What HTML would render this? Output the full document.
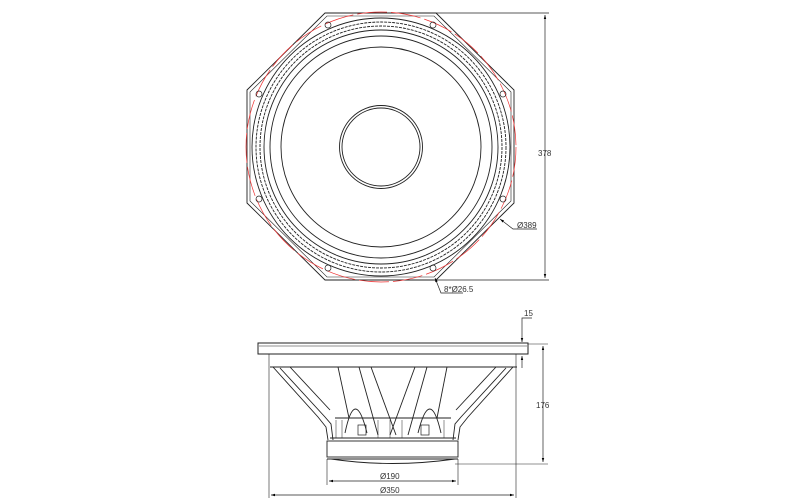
<!DOCTYPE html>
<html><head><style>html,body{margin:0;padding:0;background:#fff}svg{display:block}</style></head>
<body>
<svg width="800" height="500" viewBox="0 0 800 500" xmlns="http://www.w3.org/2000/svg" font-family="Liberation Sans, sans-serif" font-size="8">
<defs>
<marker id="a" viewBox="0 0 10 10" refX="10" refY="5" markerWidth="6" markerHeight="6" orient="auto-start-reverse"><path d="M0,2 L10,5 L0,8 z" fill="#000"/></marker>
</defs>
<g fill="none" stroke="#222" stroke-width="0.9">
<polygon points="325,13 436,13 514,90 514,203 436,280 325,280 247,203 247,90"/>
<polygon points="327,16 434,16 511,92 511,201 434,277 327,277 250,201 250,92" stroke-width="0.6"/>
<circle cx="381" cy="147" r="135" stroke="#e33" stroke-width="0.7" stroke-dasharray="30 4"/>
<circle cx="381" cy="147" r="129"/>
<circle cx="381" cy="147" r="125" stroke-dasharray="3 1"/>
<circle cx="381" cy="147" r="121" stroke-dasharray="3 1"/>
<circle cx="381" cy="147" r="117"/>
<circle cx="381" cy="147" r="111"/>
<circle cx="381" cy="147" r="100"/>
<circle cx="381" cy="147" r="41.5"/>
<circle cx="381" cy="147" r="39"/>
<g stroke-width="0.7">
<circle cx="328" cy="25" r="3"/><circle cx="433" cy="25" r="3"/>
<circle cx="259" cy="94" r="3"/><circle cx="503" cy="94" r="3"/>
<circle cx="259" cy="199" r="3"/><circle cx="503" cy="199" r="3"/>
<circle cx="328" cy="268" r="3"/><circle cx="433" cy="268" r="3"/>
</g>
<line x1="436" y1="13" x2="549" y2="13" stroke-width="0.7"/>
<line x1="436" y1="280" x2="549" y2="280" stroke-width="0.7"/>
<line x1="545" y1="15" x2="545" y2="278" stroke-width="0.7" marker-start="url(#a)" marker-end="url(#a)"/>
<polyline points="500,219 513,229 537,229" stroke-width="0.7" marker-start="url(#a)"/>
<polyline points="435,278 441,293 463,293" stroke-width="0.7" marker-start="url(#a)"/>

<rect x="258" y="343" width="270" height="11" stroke-width="1"/>
<line x1="259" y1="346" x2="527" y2="346" stroke-width="0.5"/>
<line x1="269" y1="354" x2="269" y2="498" stroke-width="0.6"/>
<line x1="516" y1="354" x2="516" y2="498" stroke-width="0.6"/>
<line x1="270" y1="367" x2="517" y2="367"/>
<polyline points="273,367 318,417 326,427 328,440"/>
<polyline points="280,368 325,417 331,424 333,440"/>
<polyline points="290,367 330,410"/>
<polyline points="513,367 468,417 460,427 458,440"/>
<polyline points="506,368 461,417 455,424 453,440"/>
<polyline points="496,367 456,410"/>
<polyline points="338,367 349,418"/><polyline points="359,367 378,435"/>
<polyline points="371,367 396,435"/>
<polyline points="447,367 437,418"/><polyline points="427,367 408,435"/>
<polyline points="415,367 390,435"/>
<line x1="335" y1="418" x2="451" y2="418"/>
<path d="M345,433 Q355,385 367,433"/><path d="M418,433 Q430,385 441,433"/>
<rect x="358" y="425" width="8" height="10" stroke-width="0.7"/>
<rect x="421" y="425" width="8" height="10" stroke-width="0.7"/>
<line x1="336" y1="420" x2="336" y2="438" stroke-width="0.5"/><line x1="342" y1="420" x2="342" y2="438" stroke-width="0.5"/>
<line x1="378" y1="420" x2="378" y2="438" stroke-width="0.5"/><line x1="390" y1="420" x2="390" y2="438" stroke-width="0.5"/>
<line x1="402" y1="420" x2="402" y2="438" stroke-width="0.5"/><line x1="444" y1="420" x2="444" y2="438" stroke-width="0.5"/>
<line x1="330" y1="438" x2="456" y2="438"/>
<rect x="327" y="441" width="131" height="16"/>
<line x1="327" y1="459" x2="458" y2="459"/>
<path d="M331,459 Q392,468 455,459"/>
<line x1="327" y1="459" x2="327" y2="485" stroke-width="0.6"/>
<line x1="458" y1="459" x2="458" y2="485" stroke-width="0.6"/>
<line x1="329" y1="481" x2="456" y2="481" stroke-width="0.7" marker-start="url(#a)" marker-end="url(#a)"/>
<line x1="271" y1="495" x2="514" y2="495" stroke-width="0.7" marker-start="url(#a)" marker-end="url(#a)"/>
<line x1="528" y1="344" x2="548" y2="344" stroke-width="0.6"/>
<line x1="455" y1="464" x2="548" y2="464" stroke-width="0.6"/>
<line x1="543" y1="346" x2="543" y2="462" stroke-width="0.7" marker-start="url(#a)" marker-end="url(#a)"/>
<polyline points="532,318 522,318 522,342" stroke-width="0.7" marker-end="url(#a)"/>
<line x1="522" y1="368" x2="522" y2="356" stroke-width="0.7" marker-end="url(#a)"/>
</g>
<g fill="#333">
<text x="538" y="156">378</text>
<text x="517" y="228">Ø389</text>
<text x="444" y="292">8*Ø26.5</text>
<text x="524" y="316">15</text>
<text x="536" y="408">176</text>
<text x="380" y="479">Ø190</text>
<text x="380" y="493">Ø350</text>
</g>
</svg>
</body></html>
